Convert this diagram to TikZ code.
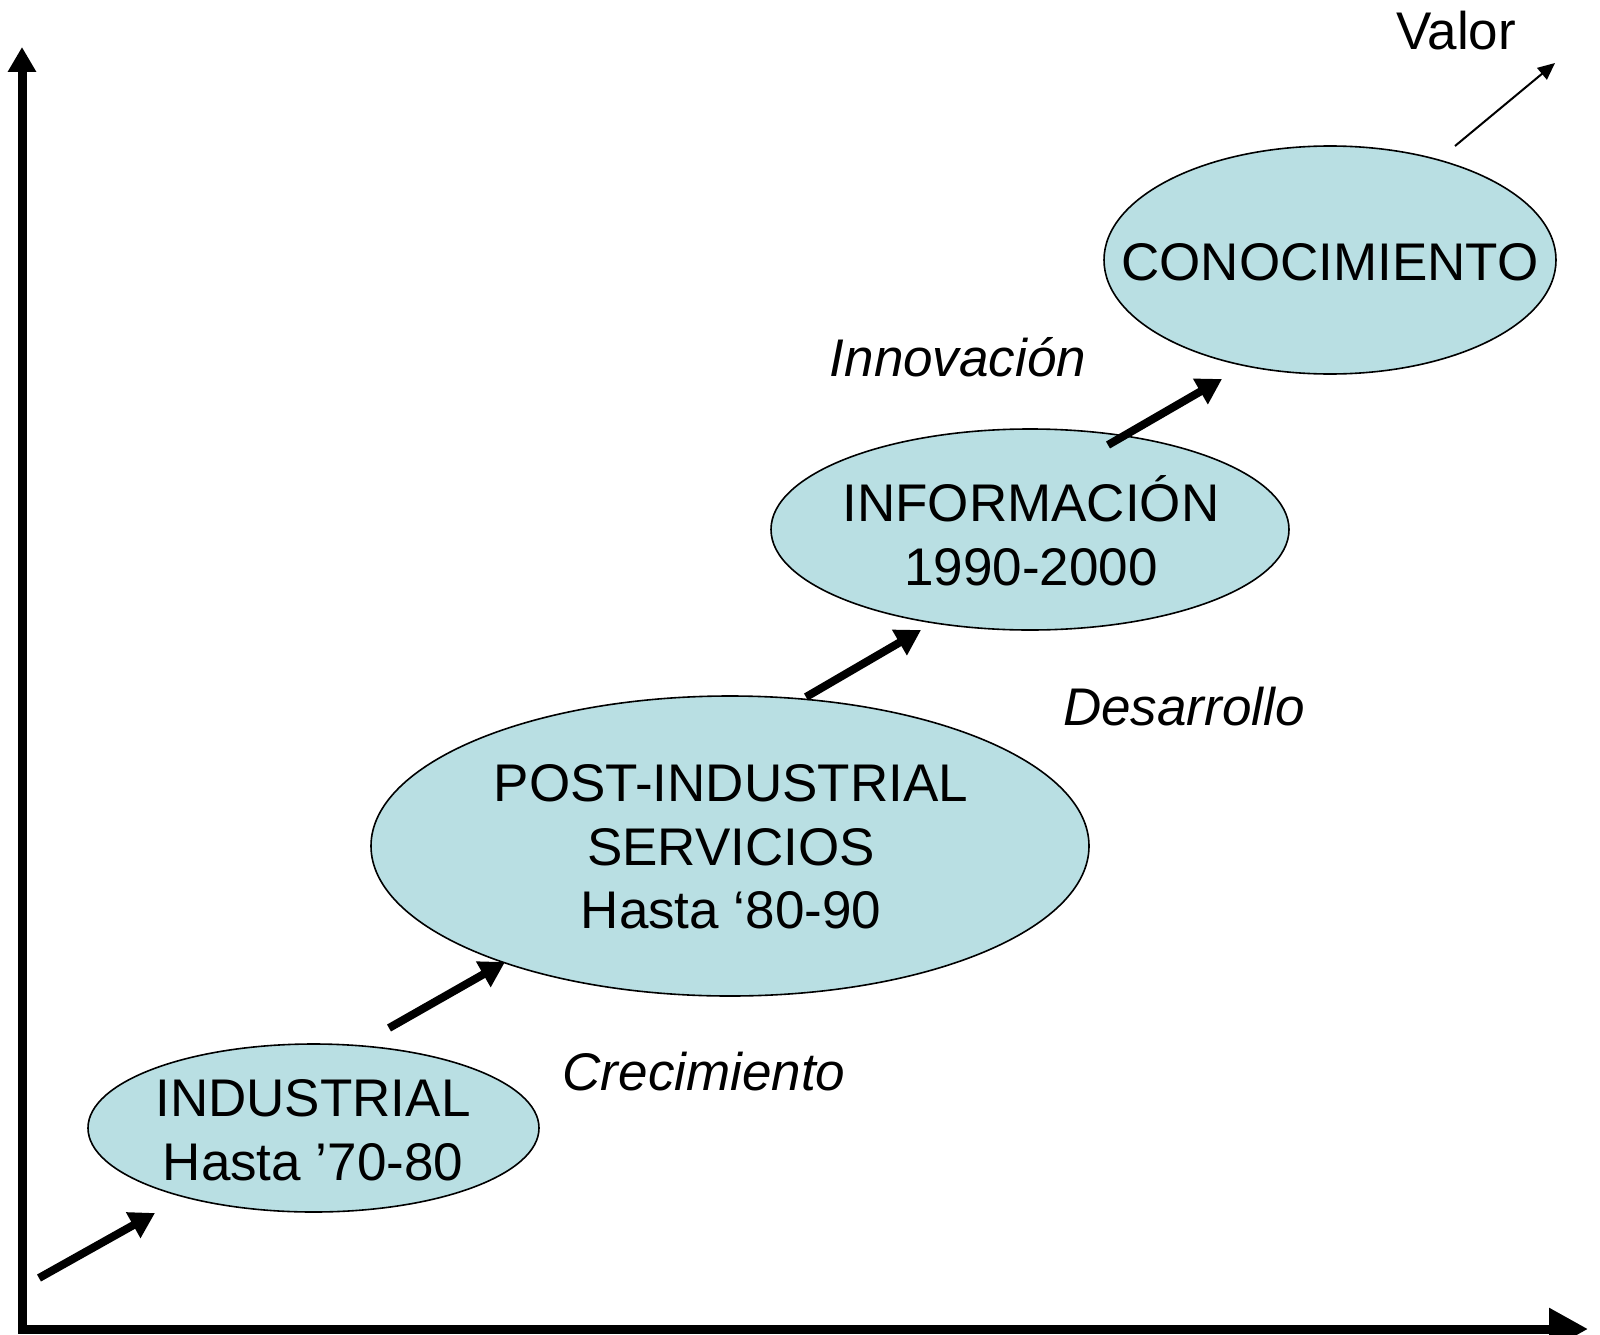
\documentclass[tikz,border=0pt]{standalone}
\usepackage{fontspec}
\setmainfont{Liberation Sans}
\usetikzlibrary{shapes.geometric,arrows.meta}
\definecolor{blobfill}{RGB}{185,223,227}
\tikzset{
  blob/.style={ellipse, draw=black, line width=1.6pt, fill=blobfill, inner sep=0pt},
  lbl/.style={font=\fontsize{53}{63.5}\selectfont, align=center, inner sep=0pt},
  ilbl/.style={font=\fontsize{53}{63.5}\selectfont\itshape, inner sep=0pt},
  thick arrow/.style={line width=8pt, -{Triangle[length=25pt,width=28pt]}},
  thin arrow/.style={line width=2pt, -{Triangle[length=17pt,width=15pt]}},
}
\begin{document}
\begin{tikzpicture}[x=1pt,y=-1pt]
\useasboundingbox (0,0) rectangle (1600,1335);
% axes
\coordinate (origin) at (22,1333);
\coordinate (ytop) at (22,47);
\coordinate (xorig) at (18,1329);
\coordinate (xend) at (1588,1329);
\draw[line width=9pt, -{Triangle[length=25pt,width=27pt]}] (origin) -- (ytop);
\draw[line width=9pt, -{Triangle[length=39pt,width=40pt]}] (xorig) -- (xend);
% ellipses
\node[blob, minimum width=451pt, minimum height=168pt] (ind) at (313.5,1128) {};
\node[blob, minimum width=718pt, minimum height=300pt] (post) at (730,846) {};
\node[blob, minimum width=518pt, minimum height=201pt] (inf) at (1030,529.5) {};
\node[blob, minimum width=452pt, minimum height=228pt] (con) at (1330,260) {};
% texts
\node[lbl] (tind) at (313,1130) {INDUSTRIAL\\Hasta ’70-80};
\node[lbl] (tpost) at (731,847) {POST-INDUSTRIAL\\SERVICIOS\\Hasta ‘80-90};
\node[lbl] (tinf) at (1031,531) {INFORMACIÓN\\1990-2000};
\node[lbl] (tcon) at (1330,262) {CONOCIMIENTO};
\node[ilbl] (innov) at (958,357) {Innovación};
\node[ilbl] (desar) at (1184,707) {Desarrollo};
\node[ilbl] (crec) at (704,1072) {Crecimiento};
\node[lbl] (valor) at (1456,31) {Valor};
% arrow ends
\coordinate (a1s) at (39,1278);
\coordinate (a1e) at (155,1213);
\coordinate (a2s) at (389,1028);
\coordinate (a2e) at (505,962);
\coordinate (a3s) at (806,697);
\coordinate (a3e) at (921,630);
\coordinate (a4s) at (1108,445);
\coordinate (a4e) at (1222,379);
\coordinate (a5s) at (1455,146);
\coordinate (a5e) at (1555,63);
\draw[thick arrow] (a1s) -- (a1e);
\draw[thick arrow] (a2s) -- (a2e);
\draw[thick arrow] (a3s) -- (a3e);
\draw[thick arrow] (a4s) -- (a4e);
\draw[thin arrow] (a5s) -- (a5e);
\end{tikzpicture}
\end{document}
